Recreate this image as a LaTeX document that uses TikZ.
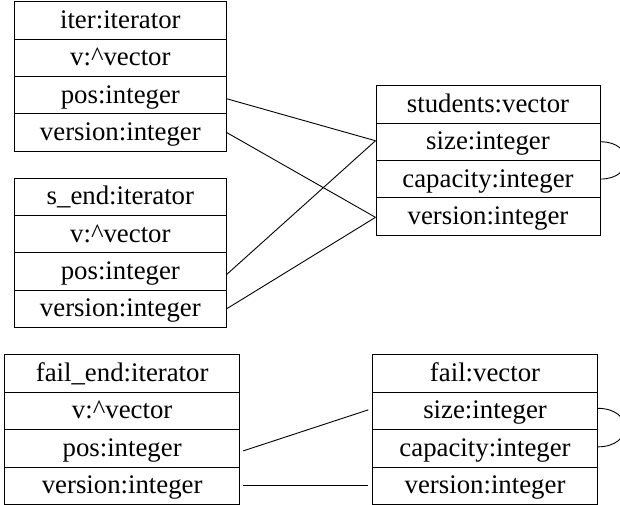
\documentclass[tikz,border=0pt]{standalone}
\usepackage{fontspec}
\setmainfont{Liberation Serif}
\begin{document}
\begin{tikzpicture}[x=1pt,y=-1pt,
  cell/.style={draw, line width=1pt, minimum width=#1, minimum height=37.3pt,
    inner sep=0pt, anchor=north west, text height=21pt, text depth=5pt,
    font=\fontsize{26.8}{30}\selectfont},
  link/.style={draw, line width=0.9pt},
  loop/.style={draw, line width=0.9pt}]
\useasboundingbox (0,0) rectangle (620,505);
\clip (0,0) rectangle (620,505);
% iter
\node[cell=211.7pt] (it1) at (14,1.5) {iter:iterator};
\node[cell=211.7pt] (it2) at (14,38.8) {v:\textasciicircum vector};
\node[cell=211.7pt] (it3) at (14,76.1) {pos:integer};
\node[cell=211.7pt] (it4) at (14,113.4) {version:integer};
% s_end
\node[cell=211.7pt] (se1) at (14,177.7) {s\_end:iterator};
\node[cell=211.7pt] (se2) at (14,215.0) {v:\textasciicircum vector};
\node[cell=211.7pt] (se3) at (14,252.3) {pos:integer};
\node[cell=211.7pt] (se4) at (14,289.6) {version:integer};
% students
\node[cell=224pt] (st1) at (375.5,85.3) {students:vector};
\node[cell=224pt] (st2) at (375.5,122.6) {size:integer};
\node[cell=224pt] (st3) at (375.5,159.9) {capacity:integer};
\node[cell=224pt] (st4) at (375.5,197.2) {version:integer};
% fail_end
\node[cell=235.3pt] (fe1) at (4,354.2) {fail\_end:iterator};
\node[cell=235.3pt] (fe2) at (4,391.7) {v:\textasciicircum vector};
\node[cell=235.3pt] (fe3) at (4,429.2) {pos:integer};
\node[cell=235.3pt] (fe4) at (4,466.7) {version:integer};
% fail
\node[cell=224.5pt] (fa1) at (372.3,354.2) {fail:vector};
\node[cell=224.5pt] (fa2) at (372.3,391.7) {size:integer};
\node[cell=224.5pt] (fa3) at (372.3,429.2) {capacity:integer};
\node[cell=224.5pt] (fa4) at (372.3,466.7) {version:integer};
% connectors
\draw[link] ([yshift=-3.5pt]it3.east) -- ([yshift=1pt]st2.west);
\draw[link] (it4.east) -- ([yshift=-1pt]st4.west);
\draw[link] ([yshift=-3pt]se3.east) -- ([yshift=1pt]st2.west);
\draw[link] (se4.east) -- ([yshift=-1pt]st4.west);
\draw[link] ([xshift=3pt,yshift=-2.5pt]fe3.east) -- ([xshift=-4pt,yshift=1pt]fa2.west);
\draw[link] ([xshift=3pt]fe4.east) -- ([xshift=-4pt]fa4.west);
% self loops
\draw[loop] (st2.east) .. controls +(34,0) and +(34,0) .. (st3.east);
\draw[loop] ([yshift=2.5pt]fa2.east) .. controls +(36,0) and +(36,0) .. ([yshift=1.5pt]fa3.east);
\end{tikzpicture}
\end{document}
